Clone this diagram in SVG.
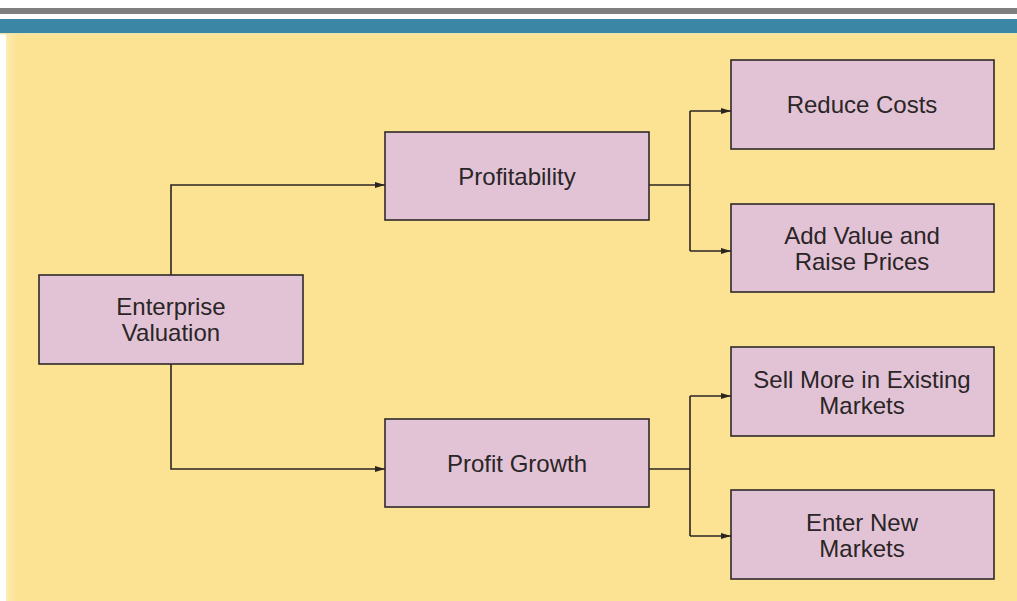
<svg xmlns="http://www.w3.org/2000/svg" width="1017" height="601" viewBox="0 0 1017 601">
<defs>
<marker id="arr" markerWidth="10" markerHeight="6" refX="10" refY="3" orient="auto" markerUnits="userSpaceOnUse">
<path d="M0,0 L10,3 L0,6 Z" fill="#2b2522"/>
</marker>
<linearGradient id="edge" x1="0" y1="0" x2="1" y2="0">
<stop offset="0" stop-color="#fdebb0"/>
<stop offset="1" stop-color="#fce293"/>
</linearGradient>
</defs>
<style>
.box{fill:#e2c3d5;stroke:#2e2a2b;stroke-width:1.6}
.lbl{font-family:"Liberation Sans",Arial,sans-serif;font-size:24px;fill:#2a2527;text-anchor:middle}
.con{fill:none;stroke:#2b2522;stroke-width:1.6}
</style>
<rect x="0" y="0" width="1017" height="601" fill="#ffffff"/>
<rect x="0" y="8" width="1017" height="6" fill="#7f7f7f"/>
<rect x="0" y="19" width="1017" height="14" fill="#3a86a4"/>
<rect x="6" y="33" width="1011" height="568" fill="#fce293"/>
<rect x="6" y="33" width="12" height="568" fill="url(#edge)"/>
<rect x="0" y="33" width="1017" height="1.5" fill="#e9e6b0"/>
<g id="connectors">
<path class="con" d="M171,275 V185 H385" marker-end="url(#arr)"/>
<path class="con" d="M171,364 V469 H385" marker-end="url(#arr)"/>
<path class="con" d="M649,185 H690"/>
<path class="con" d="M690,111 V251"/>
<path class="con" d="M690,111 H731" marker-end="url(#arr)"/>
<path class="con" d="M690,251 H731" marker-end="url(#arr)"/>
<path class="con" d="M649,469 H690"/>
<path class="con" d="M690,396 V536"/>
<path class="con" d="M690,396 H731" marker-end="url(#arr)"/>
<path class="con" d="M690,536 H731" marker-end="url(#arr)"/>
</g>
<g id="enterprise-valuation">
<rect class="box" x="39" y="275" width="264" height="89"/>
<text class="lbl" x="171" y="315">Enterprise</text>
<text class="lbl" x="171" y="341">Valuation</text>
</g>
<g id="profitability">
<rect class="box" x="385" y="132" width="264" height="88"/>
<text class="lbl" x="517" y="185">Profitability</text>
</g>
<g id="profit-growth">
<rect class="box" x="385" y="419" width="264" height="88"/>
<text class="lbl" x="517" y="472">Profit Growth</text>
</g>
<g id="reduce-costs">
<rect class="box" x="731" y="60" width="263" height="89"/>
<text class="lbl" x="862" y="113">Reduce Costs</text>
</g>
<g id="add-value">
<rect class="box" x="731" y="204" width="263" height="88"/>
<text class="lbl" x="862" y="244">Add Value and</text>
<text class="lbl" x="862" y="270">Raise Prices</text>
</g>
<g id="sell-more">
<rect class="box" x="731" y="347" width="263" height="89"/>
<text class="lbl" x="862" y="388">Sell More in Existing</text>
<text class="lbl" x="862" y="414">Markets</text>
</g>
<g id="enter-new">
<rect class="box" x="731" y="490" width="263" height="89"/>
<text class="lbl" x="862" y="531">Enter New</text>
<text class="lbl" x="862" y="557">Markets</text>
</g>
</svg>
